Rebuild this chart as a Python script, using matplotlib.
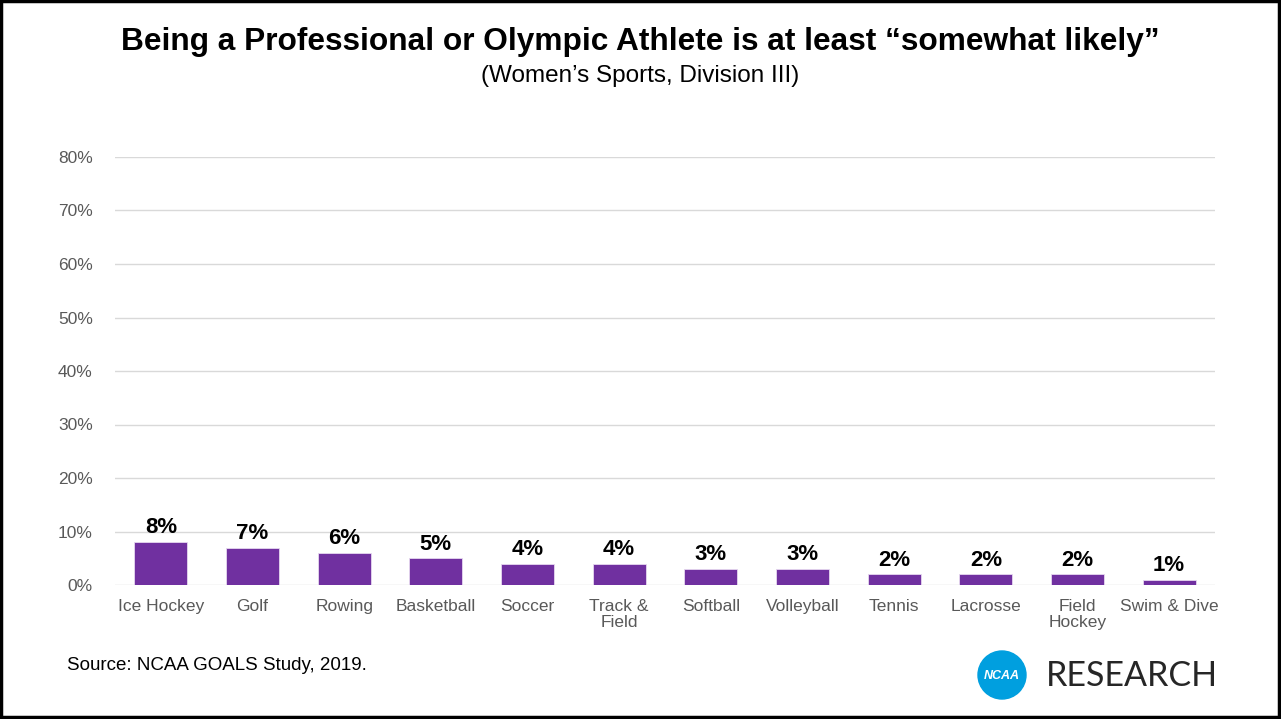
import matplotlib.pyplot as plt
from matplotlib.patches import Circle, Rectangle
from matplotlib.ticker import PercentFormatter

sports = ['Ice Hockey', 'Golf', 'Rowing', 'Basketball', 'Soccer', 'Track &\nField',
          'Softball', 'Volleyball', 'Tennis', 'Lacrosse', 'Field\nHockey', 'Swim & Dive']
pct_likely = [8, 7, 6, 5, 4, 4, 3, 3, 2, 2, 2, 1]
y_ticks = [0, 10, 20, 30, 40, 50, 60, 70, 80]

purple = '#7030A0'
grid_grey = '#D9D9D9'
label_grey = '#595959'

plt.rcParams['font.family'] = ['Liberation Sans', 'DejaVu Sans']

fig = plt.figure(figsize=(12.81, 7.19), dpi=100)
W, H = 1281, 719
# Axes placed in pixel terms: plot area x 115..1215, y 157..585 (80%..0%)
ax = fig.add_axes([115 / W, 1 - 585 / H, 1100 / W, (585 - 157) / H])

x = range(len(sports))
ax.bar(x, pct_likely, width=0.58, color=purple, edgecolor='#E6D8F0',
       linewidth=0.6, zorder=3)
for xi, v in zip(x, pct_likely):
    ax.text(xi, v + 0.7, f'{v}%', ha='center', va='bottom',
            fontsize=16, fontweight='bold', color='black')

ax.set_xlim(-0.5, len(sports) - 0.5)
ax.set_ylim(0, 80)
ax.set_yticks(y_ticks)
ax.yaxis.set_major_formatter(PercentFormatter(decimals=0))
ax.set_xticks(list(x))
ax.set_xticklabels(sports, linespacing=1.1)
ax.tick_params(axis='both', length=0, labelsize=12.5, labelcolor=label_grey)
ax.tick_params(axis='y', pad=16)
ax.tick_params(axis='x', pad=10)
ax.grid(axis='y', color=grid_grey, linewidth=1, zorder=0)
for s in ax.spines.values():
    s.set_visible(False)

# Title block
fig.text(0.5, 1 - 42 / H, 'Being a Professional or Olympic Athlete is at least \u201csomewhat likely\u201d',
         ha='center', va='center', fontsize=22.8, fontweight='bold')
fig.text(0.5, 1 - 76 / H, '(Women\u2019s Sports, Division III)',
         ha='center', va='center', fontsize=17.5)

# Source note
fig.text(67 / W, 1 - 665 / H, 'Source: NCAA GOALS Study, 2019.',
         ha='left', va='center', fontsize=13.5)

# NCAA research badge
logo = fig.add_axes([0, 0, 1, 1], zorder=5)
logo.set_xlim(0, W)
logo.set_ylim(H, 0)
logo.axis('off')
logo.add_patch(Circle((1002, 675), 24, color='#009FDF'))
logo.text(1002, 676, 'NCAA', ha='center', va='center', color='white',
          fontsize=9, fontweight='bold', style='italic')
logo.text(1046, 676, 'RESEARCH', ha='left', va='center', color='#262626',
          fontsize=24.5, family=['Lato', 'DejaVu Sans'])

# Frame around the slide
logo.add_patch(Rectangle((1, 1), W - 3, H - 3, fill=False, edgecolor='black', linewidth=2.5))

fig.savefig('out.png', dpi=100)
